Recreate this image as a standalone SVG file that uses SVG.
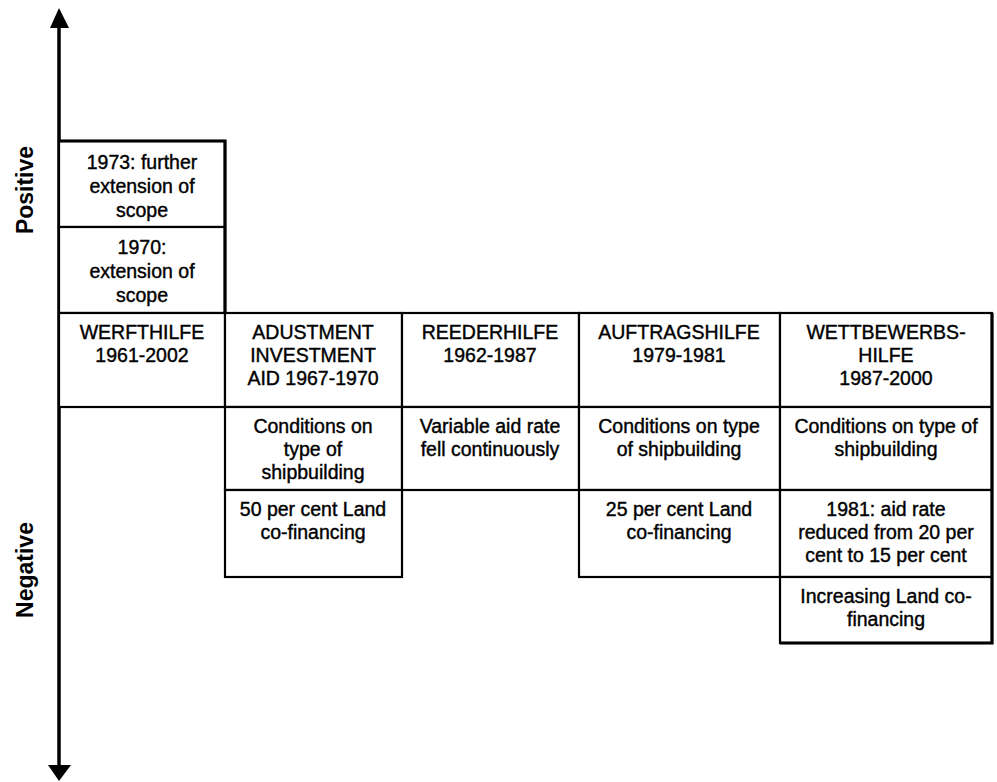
<svg xmlns="http://www.w3.org/2000/svg" width="997" height="782" viewBox="0 0 997 782">
<style>
.cell{fill:#fff;stroke:#000;stroke-width:2.2}
.t{font-family:"Liberation Sans",Arial,sans-serif;font-size:19.5px;fill:#000;stroke:#000;stroke-width:0.4;text-anchor:middle}
.lab{font-family:"Liberation Sans",Arial,sans-serif;font-size:23px;font-weight:bold;fill:#000;text-anchor:middle}
.axis{stroke:#000;stroke-width:3.5;fill:none}
</style>
<rect width="997" height="782" fill="#fff"/>
<g id="connectors">
<line class="axis" x1="59" y1="24" x2="59" y2="768"/>
<polygon points="59,8 50,28 69,28" fill="#000"/>
<polygon points="59,781 48,765 71,765" fill="#000"/>
</g>
<g id="label-positive"><text class="lab" transform="translate(33,190) rotate(-90)">Positive</text></g>
<g id="label-negative"><text class="lab" transform="translate(33,570) rotate(-90)">Negative</text></g>

<g id="n1973"><rect class="cell" x="59" y="141" width="166" height="86"/>
<text class="t" x="142" y="169">1973: further</text><text class="t" x="142" y="193">extension of</text><text class="t" x="142" y="217">scope</text></g>
<g id="n1970"><rect class="cell" x="59" y="227" width="166" height="86"/>
<text class="t" x="142" y="254">1970:</text><text class="t" x="142" y="278">extension of</text><text class="t" x="142" y="302">scope</text></g>

<g id="werfthilfe"><rect class="cell" x="59" y="313" width="166" height="94"/>
<text class="t" x="142" y="339">WERFTHILFE</text><text class="t" x="142" y="362">1961-2002</text></g>
<g id="adjustment"><rect class="cell" x="225" y="313" width="177" height="94"/>
<text class="t" x="313" y="339">ADUSTMENT</text><text class="t" x="313" y="362">INVESTMENT</text><text class="t" x="313" y="385">AID 1967-1970</text></g>
<g id="reederhilfe"><rect class="cell" x="402" y="313" width="177" height="94"/>
<text class="t" x="490" y="339">REEDERHILFE</text><text class="t" x="490" y="362">1962-1987</text></g>
<g id="auftragshilfe"><rect class="cell" x="579" y="313" width="201" height="94"/>
<text class="t" x="679" y="339">AUFTRAGSHILFE</text><text class="t" x="679" y="362">1979-1981</text></g>
<g id="wettbewerbshilfe"><rect class="cell" x="780" y="313" width="212" height="94"/>
<text class="t" x="886" y="339">WETTBEWERBS-</text><text class="t" x="886" y="362">HILFE</text><text class="t" x="886" y="385">1987-2000</text></g>

<g id="adj-cond"><rect class="cell" x="225" y="407" width="177" height="83"/>
<text class="t" x="313" y="433">Conditions on</text><text class="t" x="313" y="456">type of</text><text class="t" x="313" y="479">shipbuilding</text></g>
<g id="reed-var"><rect class="cell" x="402" y="407" width="177" height="83"/>
<text class="t" x="490" y="433">Variable aid rate</text><text class="t" x="490" y="456">fell continuously</text></g>
<g id="auf-cond"><rect class="cell" x="579" y="407" width="201" height="83"/>
<text class="t" x="679" y="433">Conditions on type</text><text class="t" x="679" y="456">of shipbuilding</text></g>
<g id="wett-cond"><rect class="cell" x="780" y="407" width="212" height="83"/>
<text class="t" x="886" y="433">Conditions on type of</text><text class="t" x="886" y="456">shipbuilding</text></g>

<g id="adj-land"><rect class="cell" x="225" y="490" width="177" height="87"/>
<text class="t" x="313" y="516">50 per cent Land</text><text class="t" x="313" y="539">co-financing</text></g>
<g id="auf-land"><rect class="cell" x="579" y="490" width="201" height="87"/>
<text class="t" x="679" y="516">25 per cent Land</text><text class="t" x="679" y="539">co-financing</text></g>
<g id="wett-rate"><rect class="cell" x="780" y="490" width="212" height="87"/>
<text class="t" x="886" y="516">1981: aid rate</text><text class="t" x="886" y="539">reduced from 20 per</text><text class="t" x="886" y="562">cent to 15 per cent</text></g>
<g id="wett-land"><rect class="cell" x="780" y="577" width="212" height="66"/>
<text class="t" x="886" y="603">Increasing Land co-</text><text class="t" x="886" y="626">financing</text></g>

<path d="M59,141 H225 V313 M992,313 V643 H780" fill="none" stroke="#000" stroke-width="3.2"/>
</svg>
